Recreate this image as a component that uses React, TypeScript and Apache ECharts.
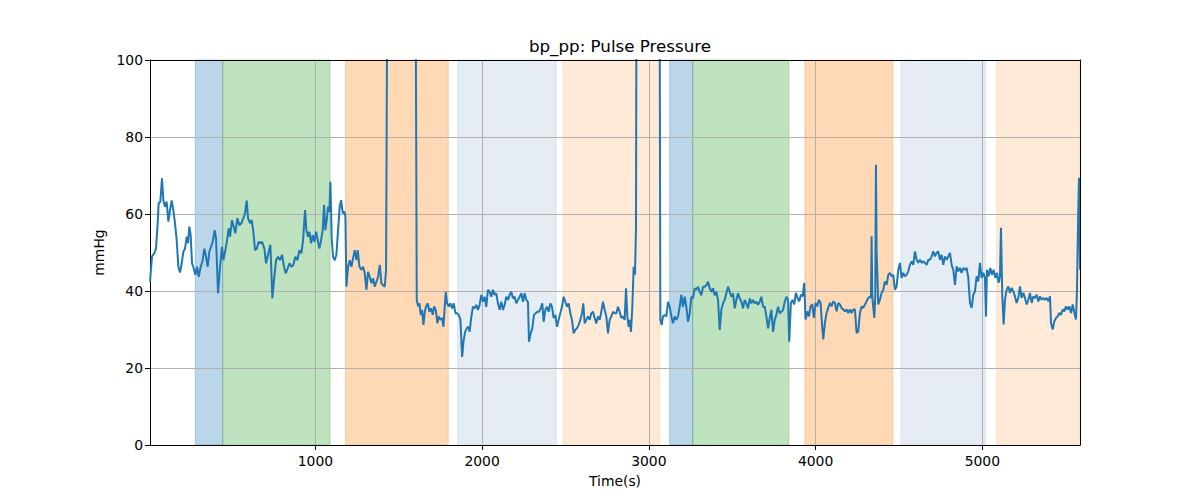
import React, { useEffect, useRef } from "react";
import * as echarts from "echarts";

// Time (s) of each sample
const timeSec = [
  8, 20, 34, 44, 54, 60, 70, 80, 88, 98, 108, 118, 128, 138, 148, 158, 168, 178, 188, 198,
  208, 218, 228, 236, 244, 252, 260, 270, 280, 290, 300, 310, 324, 334, 344, 354, 364, 374, 384, 396,
  404, 416, 428, 440, 448, 460, 472, 480, 488, 500, 510, 520, 532, 544, 556, 568, 578, 588, 596, 608,
  618, 628, 638, 648, 660, 670, 680, 694, 704, 716, 730, 742, 752, 764, 776, 788, 800, 812, 822, 834,
  844, 856, 868, 880, 892, 904, 916, 926, 932, 938, 946, 956,
  964, 974, 984, 994, 1004, 1014, 1024, 1034, 1044, 1052, 1060, 1068, 1076, 1084, 1090, 1098, 1106, 1116, 1126, 1136,
  1146, 1154, 1164, 1174, 1180, 1186, 1196, 1206, 1216, 1226, 1236, 1246, 1254, 1264, 1276, 1286, 1296, 1306, 1316, 1326,
  1336, 1346, 1356, 1366, 1376, 1386, 1396, 1406, 1416, 1424, 1434, 1520, 1598,
  1608, 1616, 1624, 1632, 1640, 1648, 1656, 1664, 1674, 1684, 1694, 1704, 1712, 1722, 1732, 1740, 1750, 1760, 1768, 1776,
  1782, 1790, 1800, 1810, 1820, 1830, 1840, 1850, 1860, 1870, 1880, 1888, 1898, 1908, 1918,
  1925, 1935, 1945, 1955, 1965, 1975, 1985, 1995, 2005, 2015, 2025, 2035, 2045, 2055, 2065, 2075, 2085, 2095, 2105, 2115,
  2125, 2135, 2145, 2155, 2165, 2175, 2185, 2195, 2205, 2215, 2225, 2235, 2245, 2255, 2265, 2275, 2281, 2291, 2301, 2311,
  2321, 2331, 2341, 2351, 2361, 2369, 2379, 2389, 2399, 2409, 2419, 2429, 2439, 2449, 2459, 2469, 2479, 2489, 2499, 2509,
  2519, 2529, 2539, 2549, 2559, 2569, 2579, 2589, 2599, 2607, 2615, 2625, 2635, 2645, 2655, 2665, 2675, 2685, 2695, 2705,
  2715, 2725, 2735, 2745, 2755, 2765, 2775, 2785, 2795, 2805, 2815, 2825, 2835, 2845, 2855, 2863, 2871, 2879,
  2885, 2893, 2901, 2909, 2917, 2923, 2927, 3000, 3063,
  3069, 3077, 3085, 3095, 3105, 3115, 3125, 3135, 3145, 3155, 3165, 3175, 3185, 3195, 3205, 3215, 3225, 3235, 3245, 3255,
  3265, 3275, 3285, 3295, 3305, 3315, 3325, 3335, 3345, 3355, 3365, 3375, 3385, 3395, 3405, 3415, 3425, 3435, 3445, 3455,
  3465, 3475, 3485, 3495, 3505, 3515, 3525, 3535, 3545, 3555, 3565, 3575, 3585, 3595, 3605, 3615, 3625, 3635, 3645, 3655,
  3665, 3675, 3685, 3695, 3705, 3715, 3725, 3735, 3745, 3755, 3765, 3775, 3785, 3795, 3805, 3815, 3825, 3835, 3842,
  3852, 3862, 3872, 3882, 3892, 3902, 3912, 3922, 3932, 3940, 3950, 3960, 3970, 3980, 3990, 4000, 4010, 4020, 4030, 4038,
  4046, 4056, 4066, 4076, 4086, 4096, 4106, 4116, 4126, 4136, 4146, 4156, 4166, 4176, 4186, 4196, 4206, 4216, 4226, 4236,
  4246, 4256, 4266, 4276, 4286, 4296, 4306, 4316, 4326, 4332, 4336, 4340, 4352, 4358, 4362, 4366, 4376, 4386, 4396, 4406,
  4416, 4426, 4436, 4446, 4456, 4466, 4476, 4486, 4496, 4506, 4516, 4526, 4536, 4546, 4556, 4566, 4576, 4586, 4596, 4606,
  4616, 4626, 4636, 4646, 4656, 4666, 4676, 4686, 4696, 4706, 4716, 4726, 4736, 4746, 4756, 4766, 4776, 4786, 4796,
  4806, 4816, 4826, 4836, 4846, 4856, 4866, 4876, 4886, 4896, 4906, 4916, 4926, 4936, 4946, 4956, 4966, 4976, 4986, 4996,
  5006, 5016, 5022, 5028, 5038, 5048, 5058, 5068, 5078, 5088, 5098, 5106, 5112, 5120, 5128, 5136, 5146, 5156, 5166, 5176,
  5186, 5196, 5206, 5216, 5226, 5236, 5246, 5256, 5266, 5276, 5286, 5296, 5306, 5316, 5326, 5336, 5346, 5356, 5366, 5376,
  5386, 5396, 5406, 5412, 5422, 5432, 5442, 5452, 5462, 5472, 5482, 5492, 5502, 5512, 5522, 5532, 5542, 5552, 5562, 5568,
  5572, 5576, 5580, 5586,
];

// Pulse pressure (mmHg) for each sample
const pulsePressure = [
  42.4, 49.0, 49.8, 51.0, 57.6, 62.8, 63.2, 69.3, 63.6, 61.9, 63.2, 58.0, 61.0, 63.5, 61.0, 57.6, 53.2, 46.3, 44.8, 47.2,
  50.2, 51.0, 54.1, 52.4, 56.7, 54.5, 47.2, 45.9, 44.2, 46.3, 43.7, 45.9, 48.0, 51.0, 48.9, 46.3, 50.2, 51.5, 52.8, 55.8,
  53.7, 39.4, 46.3, 51.5, 48.0, 50.6, 53.7, 56.3, 54.1, 58.4, 56.7, 55.0, 58.9, 57.1, 57.6, 58.9, 60.2, 63.5, 58.9, 57.6,
  58.4, 55.4, 50.6, 51.0, 52.8, 52.4, 52.8, 51.0, 47.2, 49.4, 52.0, 38.1, 42.9, 48.0, 48.9, 48.0, 49.4, 46.3, 44.6, 45.9,
  47.2, 46.3, 46.8, 48.9, 48.0, 50.6, 49.8, 53.2, 57.1, 61.0, 55.8, 54.1,
  55.4, 52.4, 54.5, 52.8, 55.4, 53.2, 51.0, 53.2, 55.8, 62.3, 55.8, 58.4, 61.9, 60.6, 68.4, 53.2, 48.9, 48.0, 49.4, 55.8,
  61.9, 63.6, 60.2, 60.6, 59.3, 41.1, 46.3, 48.0, 46.3, 48.5, 50.6, 48.0, 50.6, 46.3, 45.5, 46.3, 44.6, 40.3, 45.0, 43.7,
  42.0, 43.3, 41.1, 42.4, 43.7, 46.8, 42.0, 41.5, 41.1, 45.5, 150, 200, 160,
  37.7, 36.0, 36.8, 33.8, 35.1, 31.2, 34.6, 36.0, 36.8, 34.6, 35.5, 33.8, 36.0, 35.1, 31.6, 33.4, 32.5, 33.0, 30.7, 36.0,
  39.8, 36.8, 36.0, 36.8, 35.5, 36.8, 34.2, 34.2, 33.8, 32.5, 22.9, 26.8, 29.4, 30.3, 30.7,
  29.4, 33.3, 35.9, 35.5, 36.4, 35.1, 36.4, 39.0, 37.2, 38.5, 35.9, 40.3, 39.8, 38.5, 40.3, 39.0, 39.4, 36.8, 35.1, 37.2,
  35.1, 36.4, 38.5, 37.7, 39.0, 39.8, 38.1, 38.5, 36.8, 37.7, 38.5, 39.4, 37.2, 39.4, 37.7, 37.2, 26.8, 29.0, 30.3, 33.8,
  34.2, 34.6, 34.6, 35.5, 36.8, 32.0, 35.1, 35.9, 34.6, 36.8, 35.9, 33.0, 33.8, 30.7, 32.5, 34.2, 35.9, 38.5, 37.2, 35.9,
  36.8, 34.2, 32.5, 29.0, 29.9, 30.3, 31.2, 32.5, 34.2, 36.8, 31.6, 32.5, 33.4, 32.5, 34.2, 34.6, 33.0, 31.6, 33.4, 32.5,
  34.6, 37.2, 35.1, 33.4, 29.0, 32.5, 33.4, 34.6, 34.2, 34.2, 35.9, 34.6, 33.0, 33.4, 32.5, 40.7, 33.4, 30.7,
  32.5, 29.4, 35.9, 46.3, 44.2, 56.7, 150, 200, 150,
  32.5, 31.2, 33.4, 33.8, 33.4, 37.2, 35.9, 33.4, 31.6, 33.4, 32.5, 33.4, 35.9, 39.0, 35.9, 38.5, 35.9, 32.0, 34.2, 38.5,
  38.1, 40.7, 40.3, 41.1, 39.8, 38.9, 41.1, 41.1, 41.5, 42.4, 40.7, 39.8, 40.7, 38.9, 39.8, 37.7, 29.9, 35.1, 36.8, 37.7,
  39.4, 41.1, 39.8, 38.5, 39.4, 35.5, 37.7, 39.4, 38.1, 37.2, 35.5, 37.7, 36.8, 35.5, 38.1, 36.8, 37.7, 36.8, 37.2, 36.4,
  37.2, 38.5, 35.9, 35.9, 33.4, 30.3, 32.9, 35.1, 29.4, 32.5, 33.8, 35.9, 34.2, 34.6, 35.1, 37.2, 38.5, 37.7, 26.8,
  36.9, 37.7, 36.5, 39.5, 38.2, 37.3, 39.0, 38.6, 42.1, 32.6, 34.7, 33.4, 36.0, 36.5, 33.0, 36.9, 36.0, 37.7, 36.9, 31.7,
  27.4, 31.7, 34.3, 35.6, 36.9, 36.0, 37.3, 36.9, 34.7, 36.9, 36.5, 35.6, 35.2, 34.7, 35.2, 34.3, 35.2, 34.3, 35.2, 35.2,
  29.1, 29.5, 34.3, 36.0, 35.6, 36.5, 37.3, 38.2, 38.6, 38.2, 54.2, 38.6, 33.0, 38.6, 72.8, 50.7, 36.5, 37.7, 39.5, 40.3,
  42.5, 41.6, 44.2, 44.7, 43.8, 44.2, 40.3, 41.2, 45.5, 47.3, 43.4, 44.7, 43.8, 44.2, 45.1, 46.8, 47.7, 46.8, 50.3, 48.1,
  47.3, 48.1, 47.3, 47.7, 47.3, 46.8, 48.1, 48.1, 49.0, 50.3, 49.0, 49.9, 50.3, 48.1, 49.4, 46.8, 49.0, 48.1, 49.0,
  49.9, 46.8, 45.5, 41.6, 46.4, 45.1, 46.0, 44.7, 46.0, 45.5, 46.0, 43.4, 36.9, 35.6, 39.0, 39.9, 43.8, 42.5, 47.3, 43.4,
  44.7, 43.4, 33.4, 45.5, 43.8, 46.0, 44.2, 45.5, 43.4, 44.7, 42.1, 43.8, 56.4, 38.6, 31.3, 37.7, 40.3, 41.2, 39.5, 40.8,
  39.9, 38.6, 36.9, 38.2, 41.2, 38.2, 39.5, 38.2, 36.5, 37.7, 39.5, 36.9, 38.6, 38.2, 39.0, 37.3, 38.6, 37.7, 38.2, 37.7,
  38.2, 37.3, 38.6, 31.7, 30.0, 32.1, 33.0, 33.4, 34.3, 33.8, 35.2, 34.7, 36.0, 35.2, 36.0, 34.3, 36.5, 34.3, 32.6, 40.3,
  51.6, 62.0, 69.4, 45.5,
];

// Shaded phases
const spanStart = [280, 444, 1180, 1853, 2485, 3125, 3263, 3936, 4512, 5086];
const spanEnd = [444, 1088, 1797, 2445, 3065, 3263, 3840, 4464, 5020, 5586];
const spanKind = ["A", "B", "C", "D", "E", "A", "B", "C", "D", "E"];

const xTicks = [1000, 2000, 3000, 4000, 5000];
const X_MIN = 8;
const X_MAX = 5586;
const Y_MIN = 0;
const Y_MAX = 100;
const Y_STEP = 20;

const kindColor: Record<string, string> = {
  A: "rgba(31,119,180,0.3)",
  B: "rgba(44,160,44,0.3)",
  C: "rgba(255,127,14,0.3)",
  D: "rgba(176,196,222,0.33)",
  E: "rgba(255,127,14,0.16)",
};

const FONT = "DejaVu Sans";

export default function App() {
  const ref = useRef<HTMLDivElement>(null);
  useEffect(() => {
    if (!ref.current) return;
    const chart = echarts.init(ref.current, null, { renderer: "svg" });
    const lineData = timeSec.map((t, i) => [t, pulsePressure[i]]);
    const areas = spanStart.map((s, i) => [
      {
        xAxis: s,
        itemStyle: {
          color: kindColor[spanKind[i]],
          borderColor: kindColor[spanKind[i]],
          borderWidth: 1,
        },
      },
      { xAxis: spanEnd[i] },
    ]);
    chart.setOption({
      animation: false,
      backgroundColor: "#ffffff",
      title: {
        text: "bp_pp: Pulse Pressure",
        left: 615,
        top: 32,
        textAlign: "center",
        textStyle: { fontFamily: FONT, fontSize: 16.7, fontWeight: "normal", color: "#000" },
      },
      grid: { left: 150, right: 120, top: 60, bottom: 55, containLabel: false },
      xAxis: [
        {
          type: "value",
          min: X_MIN,
          max: X_MAX,
          position: "bottom",
          z: 2,
          name: "Time(s)",
          nameLocation: "middle",
          nameGap: 29,
          nameTextStyle: { fontFamily: FONT, fontSize: 13.9, color: "#000" },
          axisLine: { show: true, onZero: false, lineStyle: { color: "#000", width: 1 } },
          axisTick: { show: true, length: 5, lineStyle: { color: "#000", width: 1 }, customValues: xTicks },
          axisLabel: {
            customValues: xTicks,
            formatter: (v: number) => String(v),
            hideOverlap: false,
            fontFamily: FONT,
            fontSize: 13.9,
            color: "#000",
            margin: 9,
          },
          splitLine: { show: true, lineStyle: { color: "#b0b0b0", width: 1 } },
        },
        {
          type: "value",
          min: X_MIN,
          max: X_MAX,
          position: "top",
          z: 4,
          axisLine: { show: true, onZero: false, lineStyle: { color: "#000", width: 1 } },
          axisTick: { show: false },
          axisLabel: { show: false },
          splitLine: { show: false },
        },
      ],
      yAxis: [
        {
          type: "value",
          min: Y_MIN,
          max: Y_MAX,
          interval: Y_STEP,
          z: 2,
          name: "mmHg",
          nameLocation: "middle",
          nameGap: 42,
          nameTextStyle: { fontFamily: FONT, fontSize: 13.9, color: "#000" },
          axisLine: { show: true, onZero: false, lineStyle: { color: "#000", width: 1 } },
          axisTick: { show: true, length: 5, lineStyle: { color: "#000", width: 1 } },
          axisLabel: { fontFamily: FONT, fontSize: 13.9, color: "#000", margin: 7 },
          splitLine: { show: true, lineStyle: { color: "#b0b0b0", width: 1 } },
        },
        {
          type: "value",
          min: Y_MIN,
          max: Y_MAX,
          position: "right",
          z: 4,
          axisLine: { show: true, onZero: false, lineStyle: { color: "#000", width: 1 } },
          axisTick: { show: false },
          axisLabel: { show: false },
          splitLine: { show: false },
        },
      ],
      series: [
        {
          type: "line",
          name: "bp_pp",
          data: lineData,
          xAxisIndex: 0,
          yAxisIndex: 0,
          z: 3,
          showSymbol: false,
          symbol: "none",
          clip: true,
          lineStyle: { color: "#1f77b4", width: 2 },
          itemStyle: { color: "#1f77b4" },
          markArea: { silent: true, z: 1, data: areas },
        },
      ],
    });
    return () => chart.dispose();
  }, []);
  return (
    <div
      ref={ref}
      style={{ position: "fixed", left: 0, top: 0, width: 1200, height: 500 }}
    />
  );
}
